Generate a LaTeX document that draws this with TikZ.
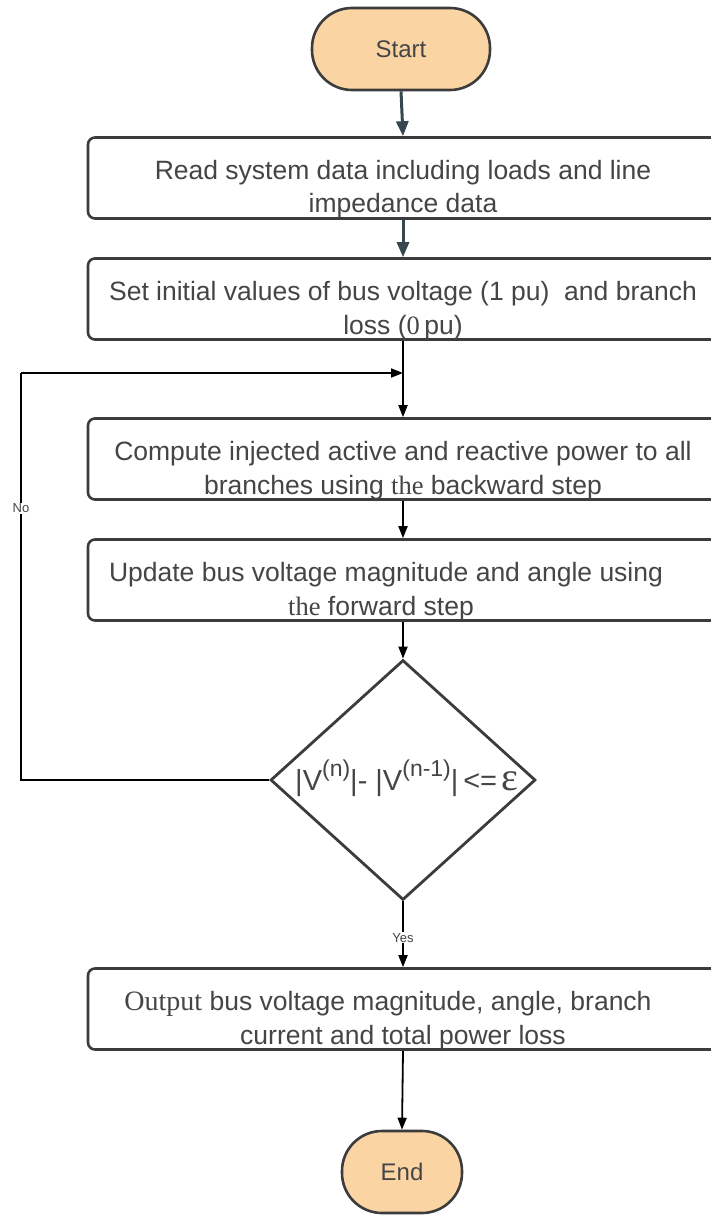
\documentclass[tikz,border=0pt]{standalone}
\usepackage{fontspec}
\setmainfont{Liberation Sans}
\newfontfamily\serifw{Liberation Serif}
\usetikzlibrary{arrows.meta,shapes.geometric}
\definecolor{termfill}{HTML}{FAD4A2}
\definecolor{edge}{HTML}{3C3C3C}
\definecolor{txt}{HTML}{454545}
\definecolor{slate}{HTML}{37474F}
% extra head room above the first text line of a step box
\newcommand\toproom{\rule{0pt}{42pt}}
\begin{document}
\begin{tikzpicture}[x=1pt,y=-1pt,
  every node/.style={text=txt},
  terminal/.style={draw=edge, line width=2.6pt, fill=termfill, rounded corners=40pt,
    minimum height=82pt, font=\fontsize{24}{28}\selectfont},
  procbox/.style={draw=edge, line width=2.6pt, fill=white, rounded corners=7pt,
    minimum width=630pt, minimum height=81pt, align=center, inner sep=0pt,
    font=\fontsize{26.5}{33.5}\selectfont},
  decision/.style={draw=edge, line width=2.8pt, diamond, inner sep=0pt,
    minimum width=265pt, minimum height=240pt},
  thick arrow/.style={draw=slate, line width=3pt, -{Triangle[length=15pt,width=12pt]}},
  thin arrow/.style={draw=black, line width=1.8pt, -{Triangle[length=12pt,width=9pt]}},
  tag/.style={fill=white, inner sep=1pt, font=\fontsize{13}{15}\selectfont}]
\useasboundingbox (0,0) rectangle (710,1222);

% terminals, process steps and the convergence test
\node[terminal, minimum width=178pt] (start) at (401,49) {Start};
\node[procbox] (read) at (403,178) {\toproom Read system data including loads and line\\impedance data};
\node[procbox] (init) at (403,299) {\toproom Set initial values of bus voltage (1 pu)\ \ and branch\\loss ({\serifw 0}\,pu)};
\node[procbox] (back) at (403,459) {\toproom Compute injected active and reactive power to all\\branches using {\serifw the} backward step};
\node[procbox] (fwd) at (403,580) {\toproom Update bus voltage magnitude and angle using\hspace*{34pt}\\{\serifw the} forward step\hspace*{44pt}};
\node[decision] (test) at (403,780) {};
\node[font=\fontsize{29}{32}\selectfont, inner sep=0pt] (cond) at (407,778)
  {|V\raisebox{14pt}{\fontsize{23}{25}\selectfont(n)}|- |V\raisebox{14pt}{\fontsize{23}{25}\selectfont(n-1)}|\,<=\,{\serifw\fontsize{40}{42}\selectfont ε}};
\node[procbox] (out) at (403,1009) {\toproom{\serifw\fontsize{28}{34}\selectfont Output} bus voltage magnitude, angle, branch\hspace*{30pt}\\current and total power loss};
\node[terminal, minimum width=120pt] (end) at (402,1172) {End};

% loop corner points
\coordinate (join) at (403,373);
\coordinate (lc) at (21,373);

% main flow
\draw[thick arrow] (start.south) -- (read.north);
\draw[thick arrow] (read.south) -- (init.north);
\draw[thin arrow] (init.south) -- (back.north);
\draw[thin arrow] (back.south) -- (fwd.north);
\draw[thin arrow] (fwd.south) -- (test.north);
\draw[thin arrow] (test.south) -- node[tag, pos=0.55] (yes) {Yes} (out.north);
\draw[thin arrow] (out.south) -- (end.north);

% not converged: back to the backward step
\draw[line width=1.8pt] (test.west) -| node[tag, pos=0.834] (no) {No} (lc);
\draw[thin arrow] (lc) -- (join);
\end{tikzpicture}
\end{document}
